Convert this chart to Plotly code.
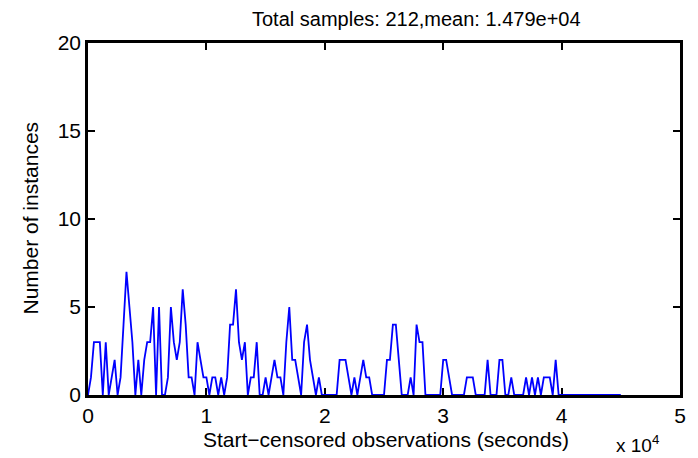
import plotly.graph_objects as go

# Histogram counts (bin width 250 s)
BIN_WIDTH = 250
counts = [
    0, 1, 3, 3, 3, 0, 3, 0, 1, 2,
    0, 1, 4, 7, 5, 3, 0, 2, 0, 2,
    3, 3, 5, 0, 5, 0, 0, 1, 5, 3,
    2, 3, 6, 4, 1, 1, 0, 3, 2, 1,
    1, 0, 1, 1, 0, 1, 0, 1, 4, 4,
    6, 3, 2, 3, 0, 1, 1, 3, 0, 0,
    1, 0, 1, 2, 1, 1, 0, 3, 5, 2,
    2, 1, 0, 3, 4, 2, 1, 0, 1, 0,
    0, 0, 0, 0, 0, 2, 2, 2, 1, 0,
    1, 0, 1, 2, 1, 1, 0, 0, 0, 0,
    0, 2, 2, 4, 4, 2, 0, 0, 0, 1,
    0, 4, 3, 3, 0, 0, 0, 0, 0, 0,
    2, 2, 1, 0, 0, 0, 0, 0, 1, 1,
    1, 0, 0, 0, 0, 2, 0, 0, 0, 2,
    2, 0, 0, 1, 0, 0, 0, 0, 1, 0,
    1, 0, 1, 0, 1, 1, 1, 0, 2, 0,
    0, 0, 0, 0, 0, 0, 0, 0, 0, 0,
    0, 0, 0, 0, 0, 0, 0, 0, 0, 0,
    0,
]
bin_starts = [i * BIN_WIDTH for i in range(len(counts))]

x_tickvals = [0, 10000, 20000, 30000, 40000, 50000]
x_ticktext = ["0", "1", "2", "3", "4", "5"]
y_tickvals = [0, 5, 10, 15, 20]
y_ticktext = ["0", "5", "10", "15", "20"]

title_text = "Total samples: 212,mean: 1.479e+04"
x_label = "Start\u2212censored observations (seconds)"
y_label = "Number of instances"
x_exponent = "x 10<sup>4</sup>"

FONT = "Liberation Sans, Arial, Helvetica, sans-serif"

fig = go.Figure(
    go.Scatter(
        x=bin_starts,
        y=counts,
        mode="lines",
        line=dict(color="#0000ff", width=1.8),
        hoverinfo="skip",
    )
)

fig.update_layout(
    width=698,
    height=458,
    margin=dict(l=88, r=12, t=43, b=63),
    paper_bgcolor="white",
    plot_bgcolor="white",
    showlegend=False,
    font=dict(family=FONT, color="black", size=20),
)

axis_common = dict(
    ticks="inside",
    ticklen=7,
    tickwidth=2,
    tickcolor="black",
    showline=True,
    linewidth=2.5,
    linecolor="black",
    mirror="ticks",
    showgrid=False,
    zeroline=False,
    layer="below traces",
    tickfont=dict(family=FONT, size=21, color="black"),
)

fig.update_xaxes(range=[0, 50000], tickvals=x_tickvals, ticktext=x_ticktext,
                 ticklabelstandoff=0, **axis_common)
fig.update_yaxes(range=[0, 20], tickvals=y_tickvals, ticktext=y_ticktext, **axis_common)

fig.add_annotation(text=title_text, xref="paper", yref="paper", x=0.555, y=1.068,
                   xanchor="center", yanchor="middle", showarrow=False,
                   font=dict(family=FONT, size=20, color="black"))
fig.add_annotation(text=x_label, xref="paper", yref="paper", x=0.503, y=-0.125,
                   xanchor="center", yanchor="middle", showarrow=False,
                   font=dict(family=FONT, size=21, color="black"))
fig.add_annotation(text=y_label, xref="paper", yref="paper", x=-0.097, y=0.503,
                   xanchor="center", yanchor="middle", showarrow=False, textangle=-90,
                   font=dict(family=FONT, size=21, color="black"))
fig.add_annotation(text=x_exponent, xref="paper", yref="paper", x=0.928, y=-0.14,
                   xanchor="center", yanchor="middle", showarrow=False,
                   font=dict(family=FONT, size=19, color="black"))

fig.write_html("out.html")
